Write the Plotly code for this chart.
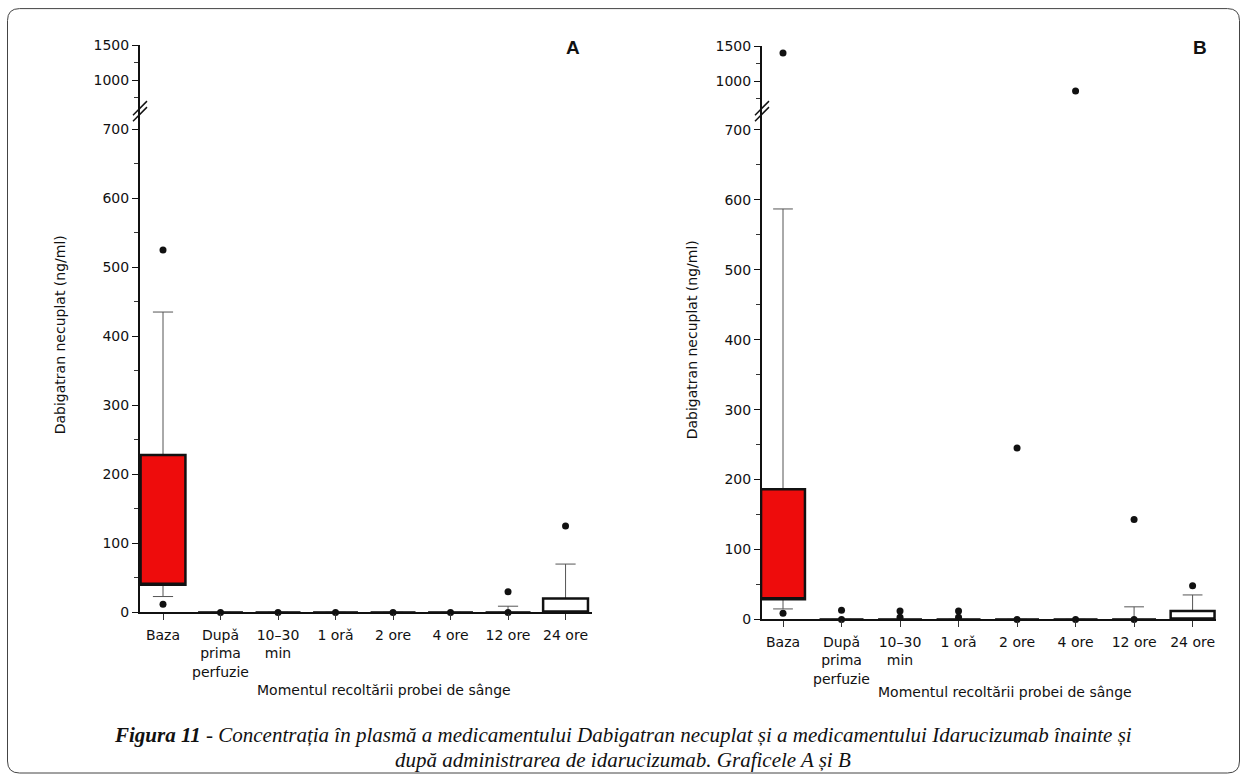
import plotly.graph_objects as go

W, H = 1247, 781
# measured page->picture vertical transform of the capture (picture_y = SY*page_y + OY)
SY, OY = 0.979, 7.9

# ---------------- data ----------------
categories = ["Baza", "Dupǎ<br>prima<br>perfuzie", "10–30<br>min", "1 orǎ",
              "2 ore", "4 ore", "12 ore", "24 ore"]

# Panel A (box statistics, ng/ml)
a_lower = [23, 0, 0, 0, 0, 0, 0, 0]
a_q1 = [40, 0, 0, 0, 0, 0, 0, 0]
a_median = [40, 0, 0, 0, 0, 0, 0, 0]
a_q3 = [228, 0, 0, 0, 0, 0, 0, 20]
a_upper = [435, 0, 0, 0, 0, 0, 9, 70]
a_out_cat = [0, 0, 1, 2, 3, 4, 5, 6, 6, 7]
a_out_val = [12, 525, 0, 0, 0, 0, 0, 0, 30, 125]

# Panel B
b_lower = [15, 0, 0, 0, 0, 0, 0, 0]
b_q1 = [29, 0, 0, 0, 0, 0, 0, 0]
b_median = [29, 0, 0, 0, 0, 0, 0, 0]
b_q3 = [186, 0, 0, 0, 0, 0, 0, 12]
b_upper = [587, 0, 0, 0, 0, 0, 18, 35]
b_out_cat = [0, 0, 1, 1, 2, 2, 3, 3, 4, 4, 5, 5, 6, 6, 7]
b_out_val = [9, 1400, 0, 13, 3, 12, 3, 12, 0, 245, 0, 860, 0, 143, 48]

y_break = 725          # values above are drawn on the compressed upper segment
y_top = 1500

# ---------------- helpers (picture pixel -> paper fraction) ----------------
def fx(px):
    return px / W

def fy(py):
    page_y = (py - OY) / SY
    return min(1.0, max(0.0, 1 - page_y / H))

RED = "#ee0c0c"
AXIS_FONT = dict(family="DejaVu Sans", size=14, color="#111")

fig = go.Figure()


def add_panel(xa, ylo, yhi, lower, q1, med, q3, upper, out_cat, out_val, bw):
    xs = list(range(len(categories)))
    # thin whiskers
    fig.add_trace(go.Box(
        x=xs, q1=q1, median=med, q3=q3, lowerfence=lower, upperfence=upper,
        width=bw, whiskerwidth=0.45, boxpoints=False,
        fillcolor="rgba(0,0,0,0)", line=dict(color="#555", width=1),
        xaxis=xa, yaxis=ylo, showlegend=False, hoverinfo="skip"))
    # thick boxes: first category red, the rest white
    fills = [RED] + ["white"] * (len(xs) - 1)
    for i in xs:
        fig.add_trace(go.Box(
            x=[i], q1=[q1[i]], median=[med[i]], q3=[q3[i]],
            lowerfence=[q1[i]], upperfence=[q3[i]],
            width=bw, whiskerwidth=0, boxpoints=False,
            fillcolor=fills[i], line=dict(color="#111", width=2.5),
            xaxis=xa, yaxis=ylo, showlegend=False))
    lo_x = [c for c, v in zip(out_cat, out_val) if v <= y_break]
    lo_y = [v for v in out_val if v <= y_break]
    hi_x = [c for c, v in zip(out_cat, out_val) if v > y_break]
    hi_y = [v for v in out_val if v > y_break]
    fig.add_trace(go.Scatter(x=lo_x, y=lo_y, mode="markers", xaxis=xa, yaxis=ylo,
                             marker=dict(color="#111", size=7), cliponaxis=False,
                             showlegend=False))
    fig.add_trace(go.Scatter(x=hi_x, y=hi_y, mode="markers", xaxis=xa, yaxis=yhi,
                             marker=dict(color="#111", size=7), cliponaxis=False,
                             showlegend=False))


add_panel("x", "y", "y2", a_lower, a_q1, a_median, a_q3, a_upper, a_out_cat, a_out_val, 0.78)
add_panel("x2", "y3", "y4", b_lower, b_q1, b_median, b_q3, b_upper, b_out_cat, b_out_val, 0.75)

fig.update_layout(boxmode="overlay")

common_x = dict(tickmode="array", tickvals=list(range(len(categories))), ticktext=categories,
                showline=True, linecolor="#111", linewidth=2, ticks="outside", ticklen=6,
                tickcolor="#333", showgrid=False, zeroline=False, tickfont=AXIS_FONT,
                ticklabelstandoff=3, fixedrange=True)
lower_y = dict(tickmode="array", tickvals=[0, 100, 200, 300, 400, 500, 600, 700],
               showline=True, linecolor="#111", linewidth=2, ticks="outside", ticklen=6,
               tickcolor="#111", showgrid=False, zeroline=False, tickfont=AXIS_FONT,
               minor=dict(dtick=50, tick0=0, ticks="outside", ticklen=4, tickcolor="#333"))
upper_common = dict(tickmode="array", tickvals=[1000, 1500],
                    showline=True, linecolor="#111", linewidth=2, ticks="outside", ticklen=6,
                    tickcolor="#111", showgrid=False, zeroline=False, tickfont=AXIS_FONT,
                    minor=dict(tickvals=[750, 1250], ticks="outside", ticklen=4, tickcolor="#333"))

# Panel A geometry (picture pixels): y axis at x=140, x axis to 592; 0 at y=612, break at 113, 1500 at 45
# Panel B geometry: y axis at x=762, x axis to 1216; 0 at y=619, break at 113, 1500 at 46
fig.update_layout(
    xaxis=dict(domain=[fx(140), fx(592)], range=[-0.4, 7.46], anchor="y", **common_x),
    yaxis=dict(domain=[fy(612), fy(113)], range=[0, 723], anchor="x", **lower_y),
    yaxis2=dict(domain=[fy(113), fy(45)], range=[529, y_top], anchor="x", **upper_common),
    xaxis2=dict(domain=[fx(762), fx(1216)], range=[-0.359, 7.40], anchor="y3", **common_x),
    yaxis3=dict(domain=[fy(619), fy(113)], range=[0, 724], anchor="x2", **lower_y),
    yaxis4=dict(domain=[fy(113), fy(46)], range=[543, y_top], anchor="x2", **upper_common),
)

shapes = []
# axis break marks
for ax in (140, 762):
    for dy in (0, 6):
        shapes.append(dict(type="line", xref="paper", yref="paper",
                           x0=fx(ax - 7), y0=fy(115 + dy), x1=fx(ax + 7), y1=fy(101 + dy),
                           line=dict(color="#111", width=1.5)))
# rounded frame
r = 12
x0, y0, x1, y1 = 7.5, 8.5, 1239.5, 772.5
path = (f"M {fx(x0 + r)},{fy(y0)} L {fx(x1 - r)},{fy(y0)} Q {fx(x1)},{fy(y0)} {fx(x1)},{fy(y0 + r)} "
        f"L {fx(x1)},{fy(y1 - r)} Q {fx(x1)},{fy(y1)} {fx(x1 - r)},{fy(y1)} "
        f"L {fx(x0 + r)},{fy(y1)} Q {fx(x0)},{fy(y1)} {fx(x0)},{fy(y1 - r)} "
        f"L {fx(x0)},{fy(y0 + r)} Q {fx(x0)},{fy(y0)} {fx(x0 + r)},{fy(y0)} Z")
shapes.append(dict(type="path", xref="paper", yref="paper", path=path,
                   line=dict(color="#444", width=1)))

annotations = []
ytitle = "Dabigatran necuplat (ng/ml)"
xtitle = "Momentul recoltării probei de sânge"
for (xt, yt, xx, xy) in ((60, 335, 384, 690), (692, 340, 1005, 692)):
    annotations.append(dict(text=ytitle, textangle=-90, x=fx(xt), y=fy(yt), xref="paper", yref="paper",
                            showarrow=False, font=AXIS_FONT, xanchor="center", yanchor="middle"))
    annotations.append(dict(text=xtitle, x=fx(xx), y=fy(xy), xref="paper", yref="paper",
                            showarrow=False, font=AXIS_FONT, xanchor="center", yanchor="middle"))
for lab, lx in (("A", 573), ("B", 1200)):
    annotations.append(dict(text=f"<b>{lab}</b>", x=fx(lx), y=fy(47), xref="paper", yref="paper",
                            showarrow=False, font=dict(family="Liberation Sans", size=19, color="#111"),
                            xanchor="center", yanchor="middle"))
caption_1 = ("<b><i>Figura 11</i></b><i> - Concentrația în plasmă a medicamentului Dabigatran necuplat "
             "și a medicamentului Idarucizumab înainte și</i>")
caption_2 = "<i>după administrarea de idarucizumab. Graficele A și B</i>"
for txt, cy in ((caption_1, 735), (caption_2, 760)):
    annotations.append(dict(text=txt, x=fx(623), y=fy(cy), xref="paper", yref="paper",
                            showarrow=False, align="center", xanchor="center", yanchor="middle",
                            font=dict(family="Liberation Serif", size=21, color="#111")))

fig.update_layout(width=W, height=H, margin=dict(l=0, r=0, t=0, b=0),
                  paper_bgcolor="white", plot_bgcolor="white",
                  shapes=shapes, annotations=annotations, showlegend=False)

fig.write_html("out.html")
